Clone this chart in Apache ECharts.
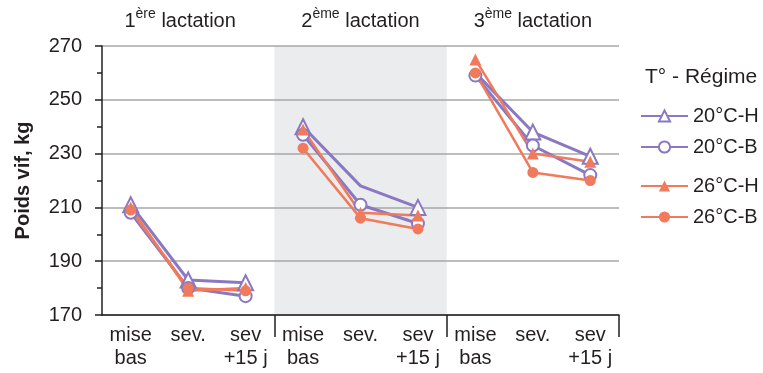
<!DOCTYPE html>
<html><head><meta charset="utf-8">
<script src="https://cdn.jsdelivr.net/npm/echarts@6/dist/echarts.min.js"></script>
<style>html,body{margin:0;padding:0;background:#fff}#c{width:763px;height:373px}</style>
</head><body><div id="c"></div>
<script>
var categories = ['mise\nbas','sev.','sev\n+15 j','mise\nbas','sev.','sev\n+15 j','mise\nbas','sev.','sev\n+15 j'];
var groups = ['1|ère| lactation','2|ème| lactation','3|ème| lactation'];
var yTicks = [170, 190, 210, 230, 250, 270];
var s20H = [211, 183, 182, 240, 218, 210, 260, 238, 229];
var s20B = [208, 180, 177, 237, 211, 204, 259, 233, 222];
var s26H = [210, 179, 180, 239, 208, 207, 265, 230, 227];
var s26B = [209, 180, 179, 232, 206, 202, 260, 223, 220];
// points drawn without marker in the original
var hidden20H = [4, 6];

var purple = '#8a78c2', orange = '#f07a5c', txt = '#231f20';
var FF = 'Liberation Sans, Arial, sans-serif';
var chart = echarts.init(document.getElementById('c'));

function segs(name, vals, color, symbol, size, bw, lw, hiddenIdx) {
  var out = [];
  for (var g = 0; g < 3; g++) {
    var d = vals.map(function (v, i) {
      if (Math.floor(i / 3) !== g) return '-';
      if (hiddenIdx && hiddenIdx.indexOf(i) >= 0) return {value: v, symbol: 'none'};
      return v;
    });
    out.push({
      name: name, type: 'line', data: d, symbol: symbol, symbolSize: size,
      connectNulls: false, animation: false,
      lineStyle: {color: color, width: lw},
      itemStyle: {color: color, borderColor: color, borderWidth: bw}
    });
  }
  return out;
}

var series = [].concat(
  segs('20°C-H', s20H, purple, 'emptyTriangle', 15, 2.5, 3, hidden20H),
  segs('20°C-B', s20B, purple, 'emptyCircle', 12, 2.5, 3),
  segs('26°C-H', s26H, orange, 'triangle', 12, 0, 2.5),
  segs('26°C-B', s26B, orange, 'circle', 11, 0, 2.5)
);
series.unshift({
  type: 'line', xAxisIndex: 1, data: [], z: -5, silent: true,
  markArea: {silent: true, itemStyle: {color: '#ebecee'}, z: -5,
    data: [[{xAxis: 1, yAxis: yTicks[0]}, {xAxis: 2, yAxis: yTicks[yTicks.length - 1]}]]}
});

chart.setOption({
  animation: false,
  grid: {left: 102, right: 144, top: 46, bottom: 58},
  xAxis: [
    {type: 'category', data: categories, boundaryGap: true,
     axisLine: {lineStyle: {color: txt, width: 1.5}},
     axisTick: {length: 10, lineStyle: {color: txt, width: 1.5}},
     axisLabel: {color: txt, fontSize: 20, lineHeight: 23, margin: 9, fontFamily: FF}},
    {type: 'value', min: 0, max: 3, interval: 1, position: 'bottom',
     axisLine: {show: false}, splitLine: {show: false}, axisLabel: {show: false},
     axisTick: {show: true, length: 22, customValues: [1, 2, 3], lineStyle: {color: txt, width: 1.5}}},
    {type: 'category', data: groups, position: 'top',
     axisLine: {show: false}, axisTick: {show: false},
     axisLabel: {margin: 15, fontFamily: FF,
       formatter: function (v, idx) {
         var p = v.split('|');
         return '{a|' + p[0] + '}{s|' + p[1] + '}{' + (idx === 0 ? 'b' : 'a') + '|' + p[2] + '}';
       },
       rich: {a: {fontSize: 20, color: txt, fontFamily: FF, verticalAlign: 'bottom', lineHeight: 24},
              b: {fontSize: 20, color: txt, fontFamily: FF, verticalAlign: 'bottom', lineHeight: 24, padding: [0, 16, 0, 0]},
              s: {fontSize: 14, color: txt, fontFamily: FF, verticalAlign: 'top', lineHeight: 24, padding: [0, 0, 9, 0]}}}}
  ],
  yAxis: {type: 'value', min: yTicks[0], max: yTicks[yTicks.length - 1], interval: 20,
    name: 'Poids vif, kg', nameLocation: 'middle', nameGap: 69,
    nameTextStyle: {fontSize: 20, fontWeight: 'bold', color: txt, fontFamily: FF},
    axisLine: {show: true, lineStyle: {color: txt, width: 1.5}},
    axisTick: {show: true, length: 7, lineStyle: {color: txt, width: 1.5}},
    minorTick: {show: true, splitNumber: 2, length: 5, lineStyle: {color: txt, width: 1.5}},
    splitLine: {show: true, lineStyle: {color: '#a7a7a7', width: 1.5}},
    axisLabel: {color: txt, fontSize: 20, margin: 20, fontFamily: FF,
      formatter: function (v) { return yTicks.indexOf(v) >= 0 ? String(v) : ''; }}},
  legend: [
    {data: ['20°C-H', '20°C-B'], orient: 'vertical', left: 640, top: 106, padding: 0, itemWidth: 47, itemHeight: 14, itemGap: 11,
     textStyle: {fontSize: 20, color: txt, fontFamily: FF}, selectedMode: false},
    {data: ['26°C-H', '26°C-B'], orient: 'vertical', left: 640, top: 176, padding: 0, itemWidth: 47, itemHeight: 14, itemGap: 11,
     textStyle: {fontSize: 20, color: txt, fontFamily: FF}, selectedMode: false}
  ],
  graphic: [{type: 'text', left: 645, top: 67, style: {text: 'T° - Régime', fontSize: 21, fill: txt, fontFamily: FF}}],
  series: series
});
</script></body></html>
